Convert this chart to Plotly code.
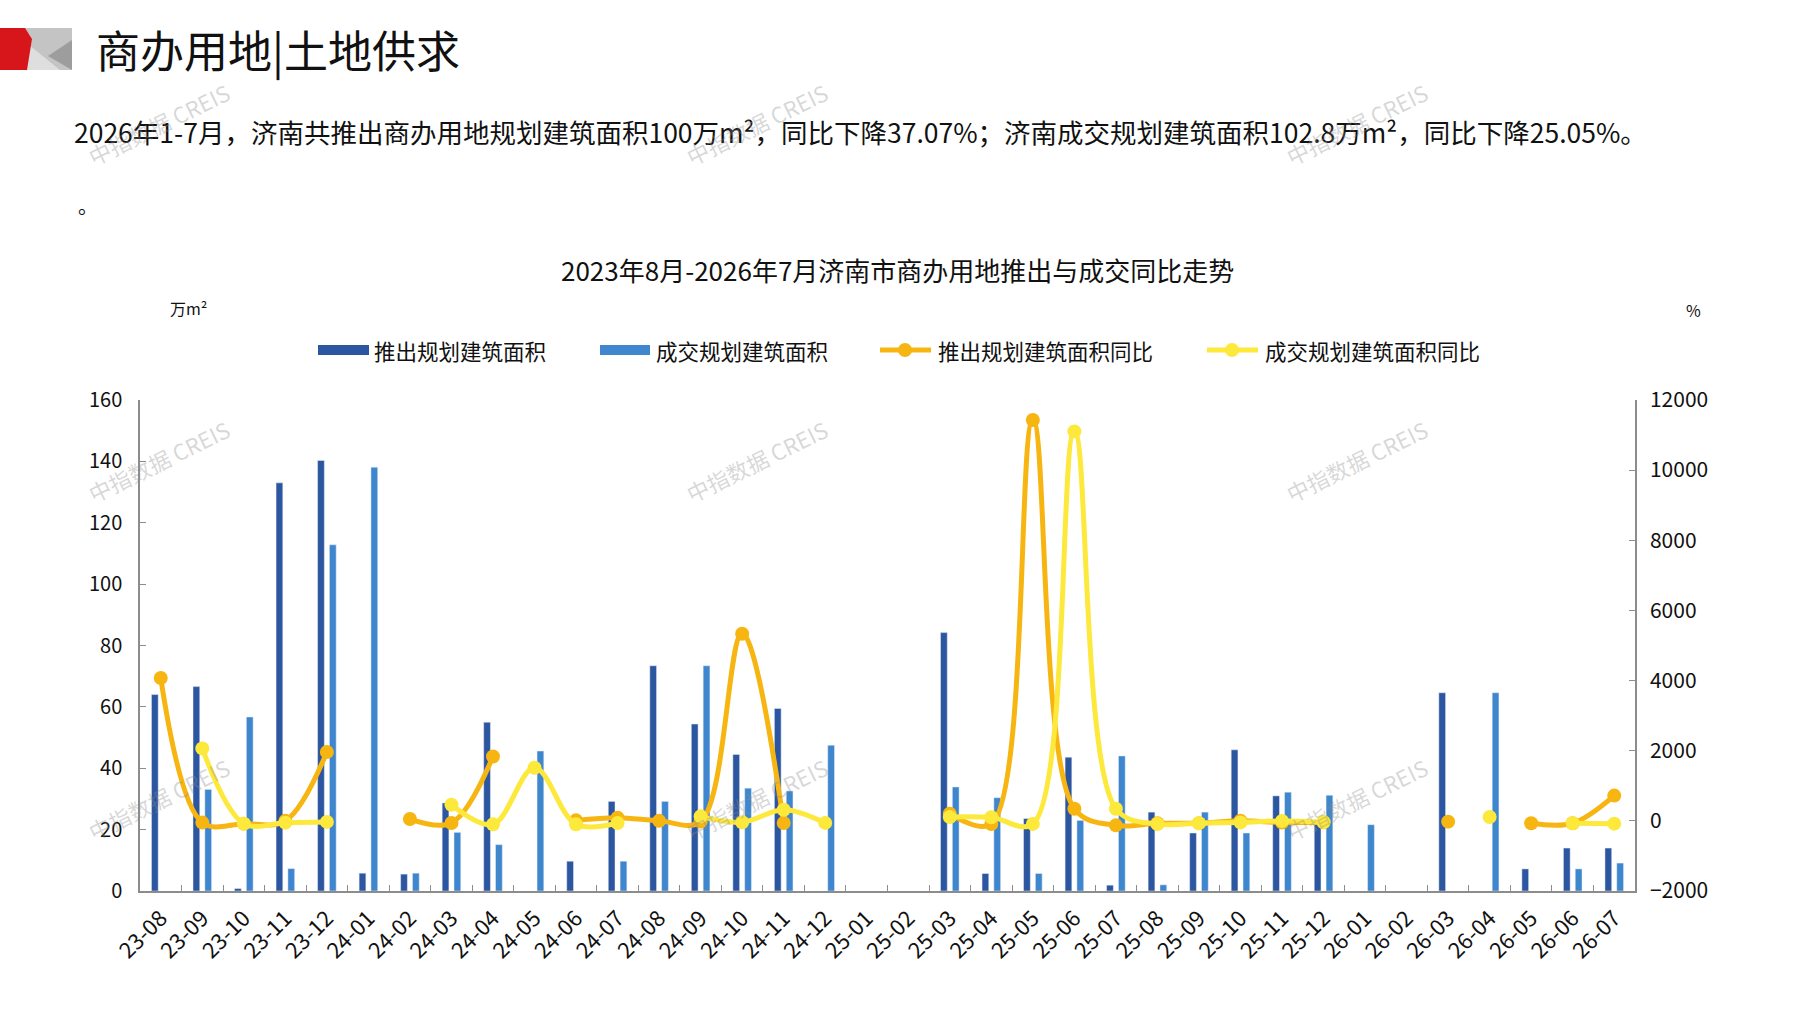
import plotly.graph_objects as go

# 月份（2023年8月-2026年7月）
months = ["23-08", "23-09", "23-10", "23-11", "23-12",
          "24-01", "24-02", "24-03", "24-04", "24-05", "24-06", "24-07", "24-08", "24-09", "24-10", "24-11", "24-12",
          "25-01", "25-02", "25-03", "25-04", "25-05", "25-06", "25-07", "25-08", "25-09", "25-10", "25-11", "25-12",
          "26-01", "26-02", "26-03", "26-04", "26-05", "26-06", "26-07"]

# 推出规划建筑面积（万m²）
push_area = [64, 66.6, 0.8, 133, 140.3,
             5.8, 5.5, 28.7, 55, None, 9.7, 29.2, 73.4, 54.4, 44.5, 59.5, None,
             None, None, 84.2, 5.7, 23.6, 43.6, 1.9, 25.7, 18.9, 46, 31, 23,
             None, None, 64.6, None, 7.2, 14, 14]

# 成交规划建筑面积（万m²）
deal_area = [None, 33.1, 56.7, 7.3, 112.8,
             138.1, 5.8, 19.1, 15.1, 45.6, None, 9.7, 29.2, 73.4, 33.5, 32.6, 47.5,
             None, None, 33.9, 30.4, 5.7, 23, 44, 2, 25.7, 18.9, 32.2, 31.2,
             21.6, None, None, 64.6, None, 7.2, 9.1]

# 推出规划建筑面积同比（%）
push_yoy = [4073, -50, -80, 0, 1964,
            None, 51, -60, 1835, None, 14, 90, 0, -20, 5335, -62, None,
            None, None, 205, -90, 11430, 347, -128, -70, -65, 3, -48, -40,
            None, None, -23, None, -70, -68, 720]

# 成交规划建筑面积同比（%）
deal_yoy = [None, 2066, -80, -51, -30,
            None, None, 459, -100, 1516, -100, -62, None, 128, -41, 318, -58,
            None, None, 109, 101, -87, 11103, 347, -93, -65, -44, -1, -35,
            None, None, None, 109, None, -67, -79]

DARK = "#2c569f"
LIGHT = "#3e86cd"
ORANGE = "#f7b512"
YELLOW = "#fde83c"
FONT = "Noto Sans CJK SC"

# 绘图区像素位置
L, R, T, B = 140, 1635, 400, 891


def px(x):
    return (x - L) / (R - L)


def py(y):
    return (B - y) / (B - T)


fig = go.Figure()
fig.add_trace(go.Bar(x=months, y=push_area, name="推出规划建筑面积", marker_color=DARK))
fig.add_trace(go.Bar(x=months, y=deal_area, name="成交规划建筑面积", marker_color=LIGHT))
fig.add_trace(go.Scatter(x=months, y=push_yoy, name="推出规划建筑面积同比", yaxis="y2",
                         mode="lines+markers", line=dict(color=ORANGE, width=5, shape="spline", smoothing=1),
                         marker=dict(size=14, color=ORANGE)))
fig.add_trace(go.Scatter(x=months, y=deal_yoy, name="成交规划建筑面积同比", yaxis="y2",
                         mode="lines+markers", line=dict(color=YELLOW, width=5, shape="spline", smoothing=1),
                         marker=dict(size=14, color=YELLOW)))

axis_style = dict(showline=True, linecolor="#8c8c8c", linewidth=1.5, ticks="inside", ticklen=6,
                  tickcolor="#8c8c8c", showgrid=False, zeroline=False)

fig.update_layout(
    width=1797, height=1010,
    margin=dict(l=L, r=1797 - R, t=T, b=1010 - B),
    paper_bgcolor="white", plot_bgcolor="white",
    font=dict(family=FONT, color="#111111"),
    showlegend=False,
    barmode="group", bargap=0.43, bargroupgap=0.43,
    xaxis=dict(type="category", range=[-0.5, len(months) - 0.5], tickson="boundaries", tickangle=-45,
               ticklabelstandoff=4, tickfont=dict(size=22, color="#111111"), **axis_style),
    yaxis=dict(range=[0, 160], dtick=20, ticklabelstandoff=12,
               tickfont=dict(size=20, color="#111111"), **axis_style),
    yaxis2=dict(range=[-2000, 12000], dtick=2000, overlaying="y", side="right", exponentformat="none",
                tickformat="d", ticklabelstandoff=9, tickfont=dict(size=21, color="#111111"), **axis_style),
)

shapes = []
# 左上角标志
shapes.append(dict(type="rect", xref="paper", yref="paper", x0=px(23), x1=px(72), y0=py(70), y1=py(28),
                   fillcolor="#c4c4c4", line_width=0))
shapes.append(dict(type="path", xref="paper", yref="paper",
                   path=f"M{px(23)},{py(40)} L{px(60)},{py(70)} L{px(23)},{py(70)} Z",
                   fillcolor="#dedede", line_width=0))
shapes.append(dict(type="path", xref="paper", yref="paper",
                   path=f"M{px(72)},{py(40)} L{px(48)},{py(56)} L{px(72)},{py(70)} Z",
                   fillcolor="#9d9d9d", line_width=0))
shapes.append(dict(type="path", xref="paper", yref="paper",
                   path=f"M{px(0)},{py(28)} L{px(25)},{py(28)} L{px(32)},{py(39)} L{px(27)},{py(70)} L{px(0)},{py(70)} Z",
                   fillcolor="#d7161c", line_width=0))

# 图例
LEG_Y = 350
shapes.append(dict(type="rect", xref="paper", yref="paper", x0=px(318), x1=px(369), y0=py(355), y1=py(345),
                   fillcolor=DARK, line_width=0))
shapes.append(dict(type="rect", xref="paper", yref="paper", x0=px(600), x1=px(650), y0=py(355), y1=py(345),
                   fillcolor=LIGHT, line_width=0))
for x0, col in [(880, ORANGE), (1207, YELLOW)]:
    shapes.append(dict(type="line", xref="paper", yref="paper", x0=px(x0), x1=px(x0 + 51), y0=py(LEG_Y), y1=py(LEG_Y),
                       line=dict(color=col, width=5)))
    c = x0 + 25
    shapes.append(dict(type="circle", xref="paper", yref="paper", x0=px(c - 7), x1=px(c + 7),
                       y0=py(LEG_Y + 7), y1=py(LEG_Y - 7), fillcolor=col, line_width=0))
fig.update_layout(shapes=shapes)

ann = []


def text(x, y, s, size, anchor="left", color="#111111"):
    ann.append(dict(xref="paper", yref="paper", x=px(x), y=py(y), text=s, showarrow=False,
                    xanchor=anchor, yanchor="middle", font=dict(size=size, color=color, family=FONT)))


text(94, 49, "商办用地|土地供求", 44)
text(72, 131, "2026年1-7月，济南共推出商办用地规划建筑面积100万m²，同比下降37.07%；济南成交规划建筑面积102.8万m²，同比下降25.05%。", 26.5)
text(76, 206, "。", 20)
text(898, 269, "2023年8月-2026年7月济南市商办用地推出与成交同比走势", 26, "center")
text(168, 308, "万m²", 16)
text(1684, 310, "%", 16)
text(372, LEG_Y, "推出规划建筑面积", 21.5)
text(654, LEG_Y, "成交规划建筑面积", 21.5)
text(936, LEG_Y, "推出规划建筑面积同比", 21.5)
text(1263, LEG_Y, "成交规划建筑面积同比", 21.5)

# 水印
for wx in [158, 756, 1356]:
    for wy in [124, 461, 799]:
        ann.append(dict(xref="paper", yref="paper", x=px(wx), y=py(wy), text="中指数据 CREIS", showarrow=False,
                        xanchor="center", yanchor="middle", textangle=-26,
                        font=dict(size=22, color="rgba(140,140,140,0.35)", family=FONT)))

fig.update_layout(annotations=ann)

fig.write_html("out.html", config={"displayModeBar": False},
               post_script="document.body.style.margin='0';")
